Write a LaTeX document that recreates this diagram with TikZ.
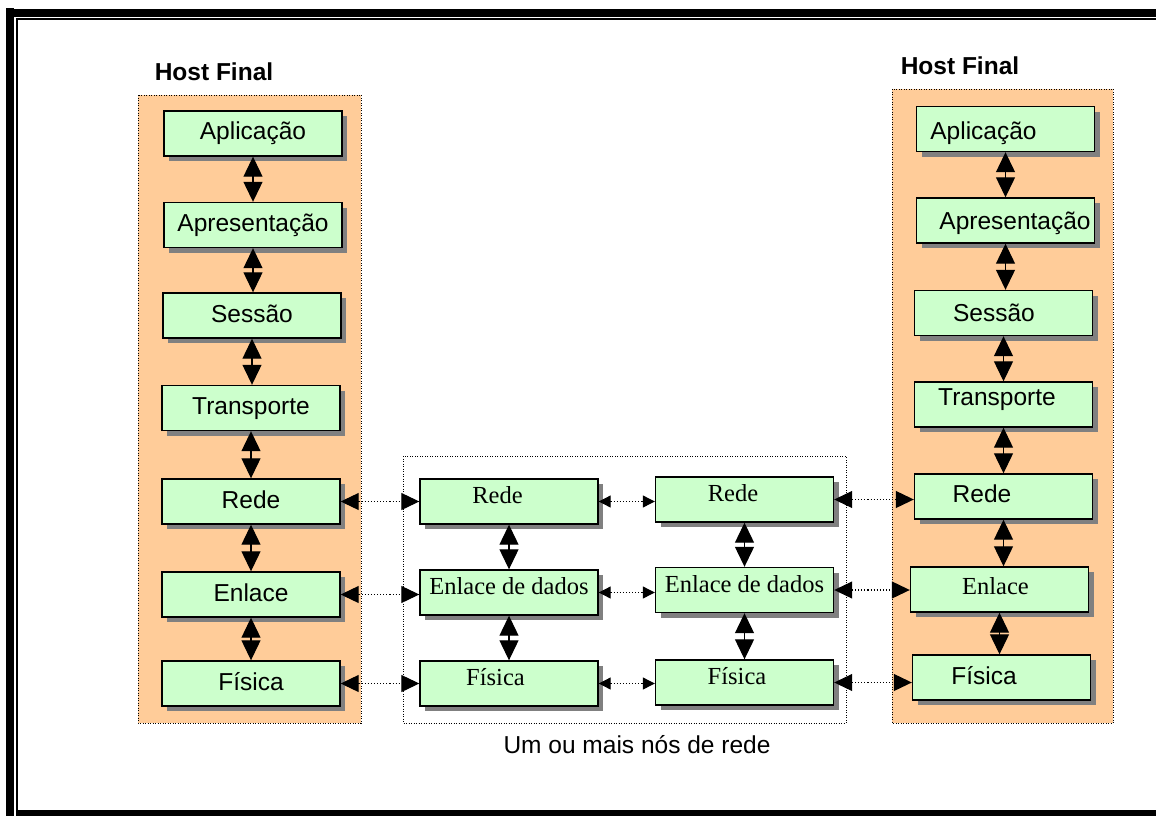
\documentclass[tikz,border=0pt]{standalone}
\usepackage{fontspec}
\setmainfont{Liberation Sans}
\newfontfamily\timesfont{Liberation Serif}
\usetikzlibrary{arrows.meta,shadows}
\definecolor{painel}{HTML}{FFCC99}
\definecolor{camada}{HTML}{CCFFCC}
\definecolor{sombra}{HTML}{808080}
\tikzset{
  layer/.style={draw=black, line width=1.4pt, fill=camada,
    minimum width=178pt, minimum height=45pt, inner sep=0pt,
    drop shadow={shadow xshift=5pt, shadow yshift=-5pt, fill=sombra, opacity=1}},
  txt/.style={font=\fontsize{24.5}{28}\selectfont, inner sep=0pt,
    text height=17.5pt, text depth=0pt},
  serif/.style={font=\timesfont\fontsize{24.5}{28}\selectfont, inner sep=0pt,
    text height=16.2pt, text depth=0pt},
  title/.style={font=\bfseries\fontsize{24.5}{28}\selectfont, inner sep=0pt},
  panel/.style={fill=painel, draw=black, line width=0.9pt, dash pattern=on 1pt off 1.5pt},
  nodebox/.style={draw=black, line width=0.9pt, dash pattern=on 1pt off 1.5pt},
  vlink/.style={line width=1.2pt,
    {Triangle[width=19pt,length=20pt]}-{Triangle[width=19pt,length=20pt]}},
  hlink/.style={line width=1.1pt, dash pattern=on 1.1pt off 2pt,
    {Triangle[width=17pt,length=18pt]}-{Triangle[width=17pt,length=18pt]}},
  hlinksmall/.style={line width=1.1pt, dash pattern=on 1.1pt off 2pt,
    {Triangle[width=12pt,length=12pt]}-{Triangle[width=12pt,length=12pt]}},
}
\begin{document}
\begin{tikzpicture}[x=1pt,y=-1pt]
\useasboundingbox (0,0) rectangle (1156,816);
\fill[white] (0,0) rectangle (1156,816);

% page frame: heavy outer rule and thin inner rule
\fill[black] (6,8) rectangle (14,816);
\fill[black] (6,9) rectangle (1156,17);
\fill[black] (16,18) rectangle (1156,20);
\fill[black] (16,18) rectangle (18,816);
\fill[black] (16,810) rectangle (1156,816);

% end host panels and the network node area
\path[panel] (138,95) rectangle (361,723);
\path[panel] (892,89) rectangle (1113,723);
\path[nodebox] (403,456) rectangle (846,723);

\node[title] (tl) at (214,72) {Host Final};
\node[title] (tr) at (960,66) {Host Final};
\node[txt] (um) at (637,745) {Um ou mais nós de rede};

% left host stack
\node[layer, label={[txt,yshift=3pt]center:Aplicação}] (L1) at (253,133.5) {};
\node[layer, label={[txt,yshift=2pt]center:Apresentação}] (L2) at (253,225) {};
\node[layer, label={[txt,yshift=2pt]center:Sessão}] (L3) at (252,315.5) {};
\node[layer, label={[txt,yshift=2pt]center:Transporte}] (L4) at (251,408) {};
\node[layer, label={[txt,yshift=2pt]center:Rede}] (L5) at (251,501.5) {};
\node[layer, label={[txt,yshift=2pt]center:Enlace}] (L6) at (251,594.5) {};
\node[layer, label={[txt,yshift=2pt]center:Física}] (L7) at (251,683.5) {};

% intermediate network nodes
\node[layer, label={[serif,xshift=-11.5pt,yshift=6pt]center:Rede}] (M1) at (509,501.5) {};
\node[layer, label={[serif,yshift=6pt]center:Enlace de dados}] (M2) at (509,592.5) {};
\node[layer, label={[serif,xshift=-13.5pt,yshift=6pt]center:Física}] (M3) at (509,683.5) {};
\node[layer, label={[serif,xshift=-11.5pt,yshift=6pt]center:Rede}] (N1) at (744.5,499.5) {};
\node[layer, label={[serif,yshift=6pt]center:Enlace de dados}] (N2) at (744.5,590) {};
\node[layer, label={[serif,xshift=-7.5pt,yshift=6pt]center:Física}] (N3) at (744.5,682.5) {};

% right host stack
\node[layer, label={[txt,xshift=-22pt,yshift=-2pt]center:Aplicação}] (R1) at (1005.5,129) {};
\node[layer, label={[txt,xshift=9.5pt]center:Apresentação}] (R2) at (1005.5,220.5) {};
\node[layer, label={[txt,xshift=-9.5pt]center:Sessão}] (R3) at (1003.5,313) {};
\node[layer, label={[txt,xshift=-6.5pt,yshift=7.5pt]center:Transporte}] (R4) at (1003.5,404.5) {};
\node[layer, label={[txt,xshift=-21.5pt,yshift=3pt]center:Rede}] (R5) at (1003.5,496.5) {};
\node[layer, label={[serif,xshift=-4pt,yshift=3pt]center:Enlace}] (R6) at (999.5,589.5) {};
\node[layer, label={[txt,xshift=-17.5pt,yshift=2pt]center:Física}] (R7) at (1001.5,677.5) {};

% vertical links between adjacent layers
\foreach \a/\b in {L1/L2,L2/L3,L3/L4,L4/L5,L5/L6,L6/L7,
                   M1/M2,M2/M3,N1/N2,N2/N3,
                   R1/R2,R2/R3,R3/R4,R4/R5,R5/R6,R6/R7}
  \draw[vlink] (\a.south) -- (\a.south |- \b.north);

% peer links across the network
\foreach \a/\b/\c/\d in {L5/M1/N1/R5, L6/M2/N2/R6, L7/M3/N3/R7} {
  \draw[hlink] (\a.east) -- (\a.east -| \b.west);
  \draw[hlinksmall] (\b.east) -- (\b.east -| \c.west);
  \draw[hlink] (\c.east) -- (\c.east -| \d.west);
}
\end{tikzpicture}
\end{document}
